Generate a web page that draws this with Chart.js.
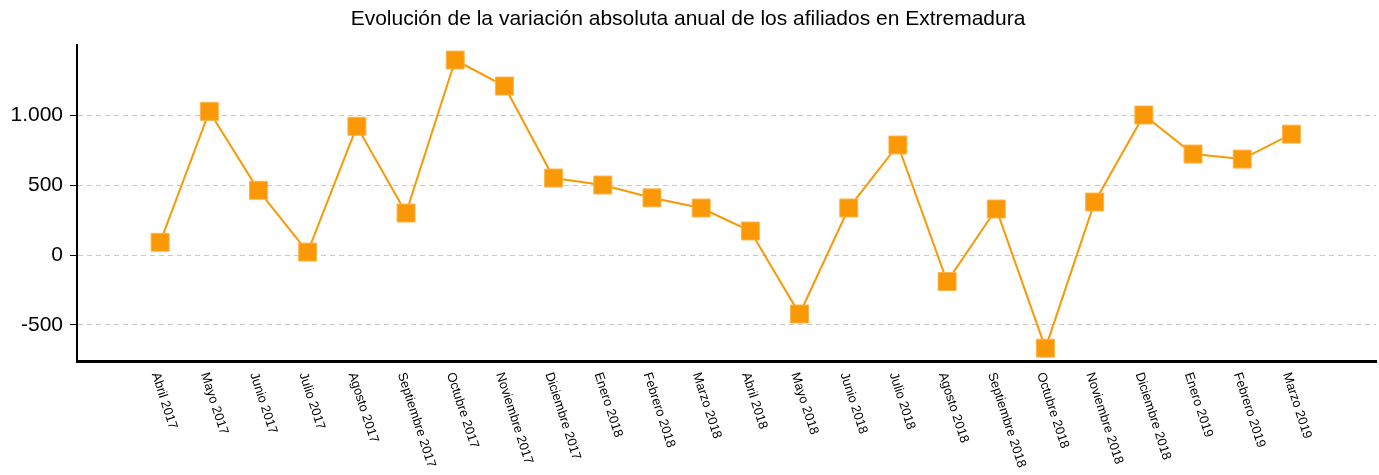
<!DOCTYPE html>
<html>
<head>
<meta charset="utf-8">
<script src="https://cdn.jsdelivr.net/npm/chart.js@4/dist/chart.umd.min.js"></script>
<style>
    html, body { margin: 0; padding: 0; background: #fff; }
    #wrap { width: 1379px; height: 475px; position: relative; }
</style>
</head>
<body>
<div id="wrap"><canvas id="afiliados-chart"></canvas></div>
<script>
// Data
const months = [
    'Abril 2017', 'Mayo 2017', 'Junio 2017', 'Julio 2017', 'Agosto 2017', 'Septiembre 2017',
    'Octubre 2017', 'Noviembre 2017', 'Diciembre 2017', 'Enero 2018', 'Febrero 2018', 'Marzo 2018',
    'Abril 2018', 'Mayo 2018', 'Junio 2018', 'Julio 2018', 'Agosto 2018', 'Septiembre 2018',
    'Octubre 2018', 'Noviembre 2018', 'Diciembre 2018', 'Enero 2019', 'Febrero 2019', 'Marzo 2019'
];
const variacion = [
    91, 1030, 464, 21, 923, 301,
    1398, 1212, 552, 502, 410, 337,
    172, -423, 337, 789, -190, 330,
    -668, 380, 1004, 724, 688, 867
];
const yTicks = [-500, 0, 500, 1000];

const ORANGE = '#fa9805';
const FONT = '"Liberation Sans", Arial, sans-serif';

/** Format numbers Spanish style: 1.000 */
function fmtEs(v) {
    const s = Math.abs(v).toString().replace(/\B(?=(\d{3})+(?!\d))/g, '.');
    return (v < 0 ? '-' : '') + s;
}

// Draws the x labels rotated clockwise, starting at each tick
const rotatedLabels = {
    id: 'rotatedLabels',
    afterDraw(chart) {
        const { ctx, scales } = chart;
        const xs = scales.x;
        const top = chart.chartArea.bottom + 12;
        ctx.save();
        ctx.font = '13px ' + FONT;
        ctx.fillStyle = '#000';
        ctx.textAlign = 'left';
        ctx.textBaseline = 'middle';
        months.forEach((m, i) => {
            const px = xs.getPixelForValue(i);
            ctx.save();
            ctx.translate(px - 5, top);
            ctx.rotate(72 * Math.PI / 180);
            ctx.fillText(m, 0, 0);
            ctx.restore();
        });
        ctx.restore();
    }
};

const ctx = document.getElementById('afiliados-chart');
new Chart(ctx, {
    type: 'line',
    data: {
        datasets: [{
            label: 'Variación absoluta anual',
            data: variacion.map((v, i) => ({ x: i, y: v })),
            borderColor: ORANGE,
            borderWidth: 2,
            backgroundColor: ORANGE,
            pointStyle: 'rect',
            pointRadius: 12.7,
            pointHoverRadius: 12.7,
            pointBackgroundColor: ORANGE,
            pointBorderColor: '#fbb44a',
            pointBorderWidth: 1,
            tension: 0
        }]
    },
    options: {
        responsive: true,
        maintainAspectRatio: false,
        animation: false,
        layout: { autoPadding: false, padding: { left: 0, right: 3, top: 0, bottom: 0 } },
        plugins: {
            legend: { display: false },
            tooltip: { enabled: false },
            title: {
                display: true,
                text: 'Evolución de la variación absoluta anual de los afiliados en Extremadura',
                color: '#000',
                font: { family: FONT, size: 21, weight: 'normal' },
                padding: { top: 7, bottom: 12.8 }
            }
        },
        scales: {
            x: {
                type: 'linear',
                min: -1.69,
                max: 24.72,
                ticks: { display: false },
                grid: { display: false },
                border: { display: true, color: '#000', width: 3 },
                afterFit: s => { s.height = 114; }
            },
            y: {
                min: -760,
                max: 1506,
                afterBuildTicks: s => { s.ticks = yTicks.map(v => ({ value: v })); },
                ticks: {
                    color: '#000',
                    padding: 7,
                    font: { family: FONT, size: 21 },
                    callback: v => fmtEs(v)
                },
                grid: {
                    color: '#c8c8c8',
                    lineWidth: 1,
                    tickLength: 7,
                    tickColor: '#000',
                    tickBorderDash: []
                },
                border: { display: true, color: '#000', width: 2, dash: [5, 4] },
                afterFit: s => { s.width = 77; }
            }
        }
    },
    plugins: [rotatedLabels]
});
</script>
</body>
</html>
